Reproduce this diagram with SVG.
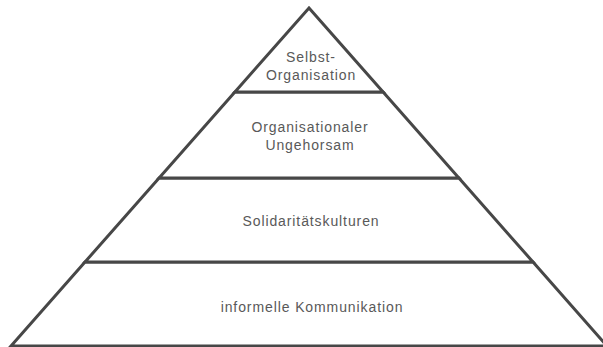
<svg xmlns="http://www.w3.org/2000/svg" width="603" height="347" viewBox="0 0 603 347">
<style>
.tier{fill:#fff;stroke:#474747;stroke-width:3;stroke-linejoin:miter}
.lbl{font-family:"Liberation Sans",Arial,sans-serif;font-size:14px;fill:#595959;text-anchor:middle;letter-spacing:0.9px}
</style>
<rect width="603" height="347" fill="#fff"/>
<g id="tier4">
<polygon class="tier" points="85,262 533,262 607,346 11,346"/>
<text class="lbl" x="312" y="312">informelle Kommunikation</text>
</g>
<g id="tier3">
<polygon class="tier" points="159.1,178 458.9,178 533,262 85,262"/>
<text class="lbl" x="311" y="226">Solidaritätskulturen</text>
</g>
<g id="tier2">
<polygon class="tier" points="234.9,92 383.1,92 458.9,178 159.1,178"/>
<text class="lbl" x="310" y="132">Organisationaler</text>
<text class="lbl" x="310" y="150">Ungehorsam</text>
</g>
<g id="tier1">
<polygon class="tier" points="309,8 383.1,92 234.9,92"/>
<text class="lbl" x="311" y="62">Selbst-</text>
<text class="lbl" x="311" y="80">Organisation</text>
</g>
</svg>
